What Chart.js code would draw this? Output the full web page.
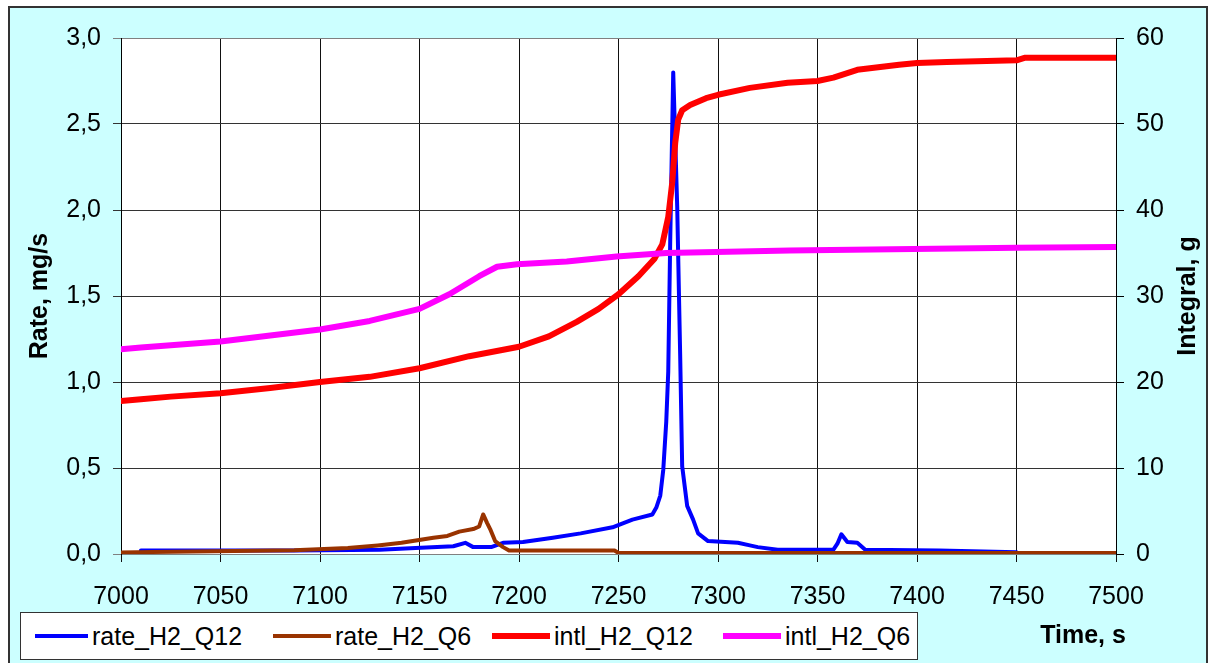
<!DOCTYPE html>
<html>
<head>
<meta charset="utf-8">
<script src="https://cdn.jsdelivr.net/npm/chart.js@4.4.0/dist/chart.umd.min.js"></script>
<style>
  body { margin: 0; background: #fff; font-family: "Liberation Sans", Arial, sans-serif; }
  #frame { position: absolute; left: 8px; top: 6px; width: 1196px; height: 670px; border: 2px solid #333; background: #ccffff; }
  #chart { position: absolute; left: 0; top: 0; }
  #legend { position: absolute; left: 20px; top: 612px; width: 896px; height: 46px; border: 1px solid #333; background: #fff; }
  .item { position: absolute; top: 0; height: 46px; line-height: 46px; font-size: 25px; color: #000; white-space: nowrap; }
  .swatch { position: absolute; }
</style>
</head>
<body>
<div id="frame"></div>
<canvas id="chart" width="1208" height="663"></canvas>
<div id="legend"></div>
<script>
// time axis, s
const xTicks = [7000, 7050, 7100, 7150, 7200, 7250, 7300, 7350, 7400, 7450, 7500];

// rate_H2_Q12, mg/s
const blueT = [7010, 7087, 7130, 7148, 7167, 7173, 7177, 7186, 7192, 7202, 7217, 7231, 7247, 7257, 7267, 7269, 7271, 7272.5, 7274, 7275, 7276, 7277.5, 7279.5, 7281, 7282, 7284.5, 7287.5, 7290, 7295, 7310, 7316, 7320, 7330, 7358, 7360, 7362, 7365, 7370, 7374, 7411, 7450];
const blueV = [0.02, 0.02, 0.025, 0.035, 0.045, 0.065, 0.04, 0.04, 0.065, 0.07, 0.095, 0.12, 0.155, 0.2, 0.23, 0.27, 0.34, 0.49, 0.77, 1.06, 1.83, 2.80, 2.02, 1.15, 0.51, 0.28, 0.2, 0.12, 0.075, 0.065, 0.05, 0.04, 0.025, 0.025, 0.06, 0.115, 0.07, 0.065, 0.025, 0.02, 0.01];

// rate_H2_Q6, mg/s
const brownT = [7000, 7016, 7087, 7114, 7129, 7141, 7149, 7157, 7164, 7170, 7177, 7180, 7182, 7184, 7185.5, 7188, 7192, 7195, 7248, 7250, 7500];
const brownV = [0.008, 0.012, 0.022, 0.035, 0.05, 0.065, 0.08, 0.095, 0.105, 0.13, 0.145, 0.16, 0.23, 0.18, 0.145, 0.075, 0.04, 0.02, 0.02, 0.006, 0.006];

// intl_H2_Q12, g
const redT = [7000, 7010, 7025, 7050, 7075, 7100, 7125, 7150, 7175, 7200, 7215, 7229, 7240, 7250, 7260, 7268, 7272, 7275, 7277, 7278.5, 7280, 7282, 7286, 7294, 7300, 7316, 7335, 7350, 7358, 7370, 7391, 7400, 7415, 7450, 7454, 7500];
const redV = [17.8, 18.0, 18.3, 18.7, 19.3, 20.0, 20.6, 21.6, 23.0, 24.1, 25.3, 27.0, 28.5, 30.2, 32.3, 34.3, 36.0, 39.2, 43.2, 47.8, 50.5, 51.6, 52.2, 53.0, 53.4, 54.2, 54.8, 55.0, 55.4, 56.3, 56.9, 57.1, 57.2, 57.4, 57.7, 57.7];

// intl_H2_Q6, g
const magT = [7000, 7010, 7050, 7100, 7125, 7150, 7165, 7180, 7189, 7199, 7224, 7249, 7274, 7336, 7450, 7500];
const magV = [23.8, 24.0, 24.7, 26.1, 27.1, 28.5, 30.2, 32.3, 33.4, 33.7, 34.0, 34.6, 35.0, 35.3, 35.6, 35.7];

const seriesNames = ["rate_H2_Q12", "rate_H2_Q6", "intl_H2_Q12", "intl_H2_Q6"];
const seriesColors = ["#0000ff", "#993300", "#ff0000", "#ff00ff"];

function pts(t, v) {
  return t.map(function(x, i) { return { x: x, y: v[i] }; });
}

const FONT = "'Liberation Sans', Arial, sans-serif";

// white plot area + axis titles
const decor = {
  id: 'decor',
  beforeDraw: function(chart) {
    const a = chart.chartArea;
    const c = chart.ctx;
    c.save();
    c.fillStyle = '#fff';
    c.fillRect(a.left, a.top, a.right - a.left, a.bottom - a.top);
    c.restore();
  },
  afterDraw: function(chart) {
    const a = chart.chartArea;
    const c = chart.ctx;
    c.save();
    c.fillStyle = '#000';
    c.font = 'bold 25px ' + FONT;
    c.textAlign = 'center';
    c.textBaseline = 'middle';
    const midY = (a.top + a.bottom) / 2;
    c.save();
    c.translate(40, midY);
    c.rotate(-Math.PI / 2);
    c.fillText('Rate, mg/s', 0, 0);
    c.restore();
    c.save();
    c.translate(1188, midY);
    c.rotate(-Math.PI / 2);
    c.fillText('Integral, g', 0, 0);
    c.restore();
    c.fillText('Time, s', 1083, 636);
    c.restore();
  }
};

const ctx = document.getElementById('chart').getContext('2d');
const chart = new Chart(ctx, {
  type: 'line',
  data: {
    datasets: [
      { label: seriesNames[0], data: pts(blueT, blueV), borderColor: seriesColors[0], borderWidth: 4, yAxisID: 'y', order: 4 },
      { label: seriesNames[1], data: pts(brownT, brownV), borderColor: seriesColors[1], borderWidth: 4, yAxisID: 'y', order: 3 },
      { label: seriesNames[2], data: pts(redT, redV), borderColor: seriesColors[2], borderWidth: 6, yAxisID: 'y2', order: 2 },
      { label: seriesNames[3], data: pts(magT, magV), borderColor: seriesColors[3], borderWidth: 6, yAxisID: 'y2', order: 1 }
    ]
  },
  options: {
    responsive: false,
    animation: false,
    layout: { padding: { top: 38, left: 0, right: 0, bottom: 0 } },
    plugins: { legend: { display: false }, tooltip: { enabled: false } },
    elements: {
      line: { tension: 0, borderJoinStyle: 'round', borderCapStyle: 'round' },
      point: { radius: 0 }
    },
    scales: {
      x: {
        type: 'linear',
        min: 7000,
        max: 7500,
        afterBuildTicks: function(s) { s.ticks = xTicks.map(function(v) { return { value: v }; }); },
        afterFit: function(s) { s.height = 109; },
        ticks: {
          color: '#000',
          font: { family: FONT, size: 25 },
          padding: 20,
          maxRotation: 0,
          callback: function(v) { return String(v); }
        },
        grid: { color: '#111', lineWidth: 1, tickLength: 8 },
        border: { color: '#808080', width: 1 }
      },
      y: {
        position: 'left',
        min: 0,
        max: 3,
        afterFit: function(s) { s.width = 121; },
        ticks: {
          stepSize: 0.5,
          color: '#000',
          font: { family: FONT, size: 25 },
          padding: 12,
          callback: function(v) { return v.toFixed(1).replace('.', ','); }
        },
        grid: {
          color: function(c) { return (c.tick && (c.tick.value === 3 || c.tick.value === 0)) ? '#808080' : '#333'; },
          lineWidth: 1,
          tickLength: 8
        },
        border: { color: '#000', width: 1 }
      },
      y2: {
        position: 'right',
        min: 0,
        max: 60,
        afterFit: function(s) { s.width = 92; },
        ticks: {
          stepSize: 10,
          color: '#000',
          font: { family: FONT, size: 25 },
          padding: 12
        },
        grid: { drawOnChartArea: false, color: '#000', tickLength: 8 },
        border: { color: '#000', width: 1 }
      }
    }
  },
  plugins: [decor]
});

// legend box
const legendPos = [[35, 92, 4], [273, 335, 4], [492, 554, 6], [723, 785, 6]];
const lg = document.getElementById('legend');
seriesNames.forEach(function(name, i) {
  const p = legendPos[i];
  const sw = document.createElement('div');
  sw.className = 'swatch';
  sw.style.left = (p[0] - 21) + 'px';
  sw.style.width = (p[1] - p[0] - 4) + 'px';
  sw.style.height = p[2] + 'px';
  sw.style.top = (23 - p[2] / 2) + 'px';
  sw.style.background = seriesColors[i];
  lg.appendChild(sw);
  const tx = document.createElement('div');
  tx.className = 'item';
  tx.style.left = (p[1] - 21) + 'px';
  tx.textContent = name;
  lg.appendChild(tx);
});
</script>
</body>
</html>
